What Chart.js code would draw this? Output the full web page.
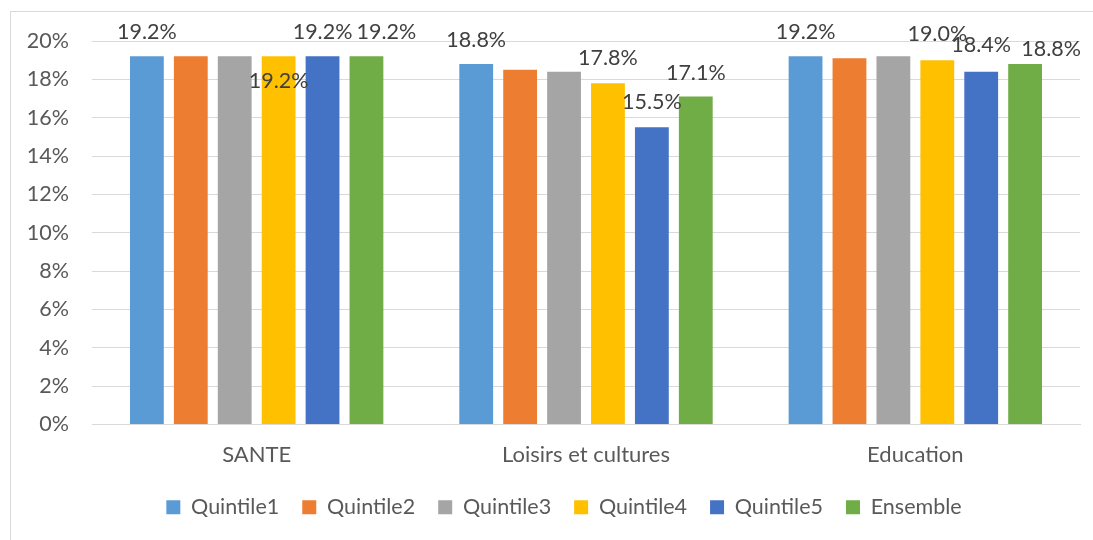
<!DOCTYPE html>
<html>
<head>
<meta charset="utf-8">
<script src="https://cdn.jsdelivr.net/npm/chart.js@4.4.1/dist/chart.umd.min.js"></script>
<style>
  html, body { margin: 0; padding: 0; background: #ffffff; overflow: hidden; }
  #frame { position: absolute; left: 10px; top: 11px; width: 1100px; height: 560px; border: 1px solid #d9d9d9; box-sizing: border-box; }
  #wrap { position: absolute; left: 0; top: 0; width: 1093px; height: 540px; }
</style>
</head>
<body>
<div id="frame"></div>
<div id="wrap"><canvas id="chart" width="1093" height="540"></canvas></div>
<script>
const categories = ['SANTE', 'Loisirs et cultures', 'Education'];
const seriesNames = ['Quintile1', 'Quintile2', 'Quintile3', 'Quintile4', 'Quintile5', 'Ensemble'];
const quintile1 = [19.2, 18.8, 19.2];
const quintile2 = [19.2, 18.5, 19.1];
const quintile3 = [19.2, 18.4, 19.2];
const quintile4 = [19.2, 17.8, 19.0];
const quintile5 = [19.2, 15.5, 18.4];
const ensemble = [19.2, 17.1, 18.8];
const yTicks = [0, 2, 4, 6, 8, 10, 12, 14, 16, 18, 20];

const COLORS = ['#5B9BD5', '#ED7D31', '#A5A5A5', '#FFC000', '#4472C4', '#70AD47'];

// which series carry a data label, and how each label is nudged from its bar top
const showLabel = [true, false, false, true, true, true];
const labelNudge = [
  [[0, -24], [0, -24], [0, -24]],
  [[0, -24], [0, -24], [0, -24]],
  [[0, -24], [0, -24], [0, -24]],
  [[0, 25], [0, -25], [0, -26]],
  [[0, -24], [0, -25], [0, -27]],
  [[20, -24], [0, -24], [26, -15]]
];

const allSeries = [quintile1, quintile2, quintile3, quintile4, quintile5, ensemble];

const barLabels = {
  id: 'barLabels',
  afterDatasetsDraw(chart) {
    const ctx = chart.ctx;
    ctx.save();
    ctx.font = '21.5px Lato';
    ctx.fillStyle = '#404040';
    ctx.textAlign = 'center';
    ctx.textBaseline = 'middle';
    chart.data.datasets.forEach((ds, i) => {
      if (!showLabel[i]) return;
      chart.getDatasetMeta(i).data.forEach((bar, j) => {
        const [dx, dy] = labelNudge[i][j];
        ctx.fillText(ds.data[j].toFixed(1) + '%', bar.x + dx, bar.y + dy);
      });
    });
    ctx.restore();
  }
};

// legend sits a little right of the canvas centre in the original
const legendShift = {
  id: 'legendShift',
  afterLayout(chart) {
    const lg = chart.legend;
    if (!lg) return;
    lg.left += 24;
    lg.right += 24;
    lg.adjustHitBoxes();
  }
};

new Chart(document.getElementById('chart'), {
  type: 'bar',
  data: {
    labels: categories,
    datasets: seriesNames.map((name, i) => ({
      label: name,
      data: allSeries[i],
      backgroundColor: COLORS[i],
      borderWidth: 0,
      categoryPercentage: 0.8,
      barPercentage: 0.77
    }))
  },
  options: {
    responsive: false,
    animation: false,
    layout: { padding: { left: 0, right: 13, top: 41, bottom: 12 } },
    plugins: {
      tooltip: { enabled: false },
      legend: {
        position: 'bottom',
        labels: {
          boxWidth: 14,
          boxHeight: 14,
          padding: 23,
          color: '#595959',
          font: { family: 'Lato', size: 21.5 }
        }
      }
    },
    scales: {
      x: {
        grid: { display: false, drawTicks: false },
        border: { display: true, color: '#d9d9d9' },
        ticks: { color: '#595959', padding: 17, font: { family: 'Lato', size: 22 } },
        afterFit(scale) { scale.height = 49; }
      },
      y: {
        min: 0,
        max: 20,
        afterBuildTicks(scale) { scale.ticks = yTicks.map(v => ({ value: v })); },
        grid: { color: '#d9d9d9', drawTicks: false },
        border: { display: false },
        ticks: {
          color: '#595959',
          padding: 23,
          font: { family: 'Lato', size: 21.5 },
          callback: v => v + '%'
        },
        afterFit(scale) { scale.width = 92; }
      }
    }
  },
  plugins: [barLabels, legendShift]
});
</script>
</body>
</html>
